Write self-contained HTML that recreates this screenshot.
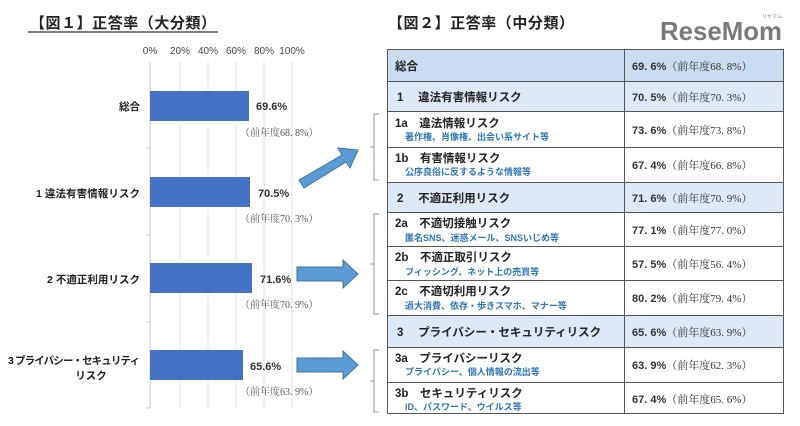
<!DOCTYPE html>
<html><head><meta charset="utf-8"><style>
html,body{margin:0;padding:0;background:#fff;}
svg{display:block;font-family:"Liberation Sans","Noto Sans CJK JP",sans-serif;}
.s{font-family:"Liberation Serif","Noto Serif CJK SC",serif;}
</style></head><body>
<svg width="800" height="426" viewBox="0 0 800 426" xmlns="http://www.w3.org/2000/svg">
<rect width="800" height="426" fill="#fff"/>
<text x="30" y="28" font-size="15" font-weight="bold" fill="#222" textLength="186">【図１】正答率（大分類）</text>
<line x1="28" y1="32" x2="218" y2="32" stroke="#333" stroke-width="1.2"/>
<g font-size="10" fill="#444" text-anchor="middle">
<text x="150" y="54">0%</text><text x="180" y="54">20%</text><text x="208" y="54">40%</text>
<text x="236" y="54">60%</text><text x="264" y="54">80%</text><text x="292" y="54">100%</text>
</g>
<g stroke="#e2e2e2" stroke-width="1">
<line x1="180" y1="62" x2="180" y2="408"/><line x1="208" y1="62" x2="208" y2="408"/>
<line x1="236" y1="62" x2="236" y2="408"/><line x1="264" y1="62" x2="264" y2="408"/>
<line x1="292" y1="62" x2="292" y2="408"/>
</g>
<g stroke="#ccc" stroke-width="1">
<line x1="150" y1="62" x2="150" y2="408"/>
<line x1="146" y1="148" x2="150" y2="148"/><line x1="146" y1="235" x2="150" y2="235"/>
<line x1="146" y1="322" x2="150" y2="322"/><line x1="146" y1="408" x2="150" y2="408"/>
</g>
<g fill="#4472c4">
<rect x="150" y="91" width="99" height="30"/>
<rect x="150" y="177" width="100" height="30"/>
<rect x="150" y="263" width="102" height="30"/>
<rect x="150" y="350" width="93" height="30"/>
</g>
<g font-size="10.5" font-weight="bold" fill="#222" text-anchor="end">
<text x="140" y="110">総合</text>
<text x="140" y="197" textLength="104">1 違法有害情報リスク</text>
<text x="140" y="283" textLength="93">2 不適正利用リスク</text>
<text x="140" y="364" textLength="132">3 プライバシー・セキュリティ</text>
<text x="91" y="379" text-anchor="middle">リスク</text>
</g>
<g font-size="11" font-weight="bold" fill="#333">
<text x="256" y="110">69.6%</text><text x="258" y="197">70.5%</text>
<text x="260" y="283">71.6%</text><text x="250" y="370">65.6%</text>
</g>
<g font-size="10" fill="#555" class="s">
<text x="240" y="136">（前年度68. 8%）</text><text x="240" y="222">（前年度70. 3%）</text>
<text x="240" y="308">（前年度70. 9%）</text><text x="240" y="395">（前年度63. 9%）</text>
</g>
<g fill="#5b9bd5" stroke="#41719c" stroke-width="1">
<polygon points="297,267 343,267 343,260 358,274 343,288 343,281 297,281"/>
<polygon points="297,358 343,358 343,351 358,365 343,379 343,372 297,372"/>
<polygon points="299,180 342,155 338,148 358,150 350,168 346,162 304,188"/>
</g>
<g fill="none" stroke="#999" stroke-width="1">
<path d="M379,114 H374 V180 H379 M370,147 H374"/>
<path d="M379,214 H374 V314 H379 M370,264 H374"/>
<path d="M379,350 H374 V412 H379 M370,381 H374"/>
</g>
<text x="388" y="28" font-size="15" font-weight="bold" fill="#222" textLength="186">【図２】正答率（中分類）</text>
<text x="660" y="40" font-size="26" font-weight="bold" fill="#7a7a7a" textLength="122" lengthAdjust="spacingAndGlyphs">ReseMom</text>
<text x="762" y="18" font-size="5" fill="#888">リセマム</text>
<rect x="387" y="49" width="397" height="32" fill="#c9dcf0"/>
<rect x="387" y="81" width="397" height="30" fill="#dde9f6"/>
<rect x="387" y="182" width="397" height="30" fill="#dde9f6"/>
<rect x="387" y="315" width="397" height="32" fill="#dde9f6"/>
<g stroke="#555" stroke-width="1" fill="none">
<rect x="387.5" y="49.5" width="396" height="364"/>
<line x1="624.5" y1="49" x2="624.5" y2="414"/>
<line x1="387" y1="81.5" x2="784" y2="81.5"/><line x1="387" y1="111.5" x2="784" y2="111.5"/>
<line x1="387" y1="147.5" x2="784" y2="147.5"/><line x1="387" y1="182.5" x2="784" y2="182.5"/>
<line x1="387" y1="212.5" x2="784" y2="212.5"/><line x1="387" y1="246.5" x2="784" y2="246.5"/>
<line x1="387" y1="280.5" x2="784" y2="280.5"/><line x1="387" y1="315.5" x2="784" y2="315.5"/>
<line x1="387" y1="347.5" x2="784" y2="347.5"/><line x1="387" y1="382.5" x2="784" y2="382.5"/>
</g>
<g font-size="11.5" font-weight="bold" fill="#222">
<text x="395" y="70">総合</text>
<text x="397" y="101">1　 違法有害情報リスク</text>
<text x="395" y="127">1a　違法情報リスク</text>
<text x="395" y="162">1b　有害情報リスク</text>
<text x="397" y="202">2　 不適正利用リスク</text>
<text x="395" y="227">2a　不適切接触リスク</text>
<text x="395" y="261">2b　不適正取引リスク</text>
<text x="395" y="295">2c　不適切利用リスク</text>
<text x="397" y="336">3　 プライバシー・セキュリティリスク</text>
<text x="395" y="362">3a　プライバシーリスク</text>
<text x="395" y="397">3b　セキュリティリスク</text>
</g>
<g font-size="9" font-weight="bold" fill="#2e75b6">
<text x="405" y="140">著作権、肖像権、出会い系サイト等</text>
<text x="405" y="175">公序良俗に反するような情報等</text>
<text x="405" y="241">匿名SNS、迷惑メール、SNSいじめ等</text>
<text x="405" y="275">フィッシング、ネット上の売買等</text>
<text x="405" y="309">過大消費、依存・歩きスマホ、マナー等</text>
<text x="405" y="375">プライバシー、個人情報の流出等</text>
<text x="405" y="410">ID、パスワード、ウイルス等</text>
</g>
<g font-size="11" fill="#333" class="s">
<text x="632" y="70"><tspan font-weight="bold" font-family="Liberation Sans">69. 6%</tspan>（前年度68. 8%）</text>
<text x="632" y="101"><tspan font-weight="bold" font-family="Liberation Sans">70. 5%</tspan>（前年度70. 3%）</text>
<text x="632" y="134"><tspan font-weight="bold" font-family="Liberation Sans">73. 6%</tspan>（前年度73. 8%）</text>
<text x="632" y="169"><tspan font-weight="bold" font-family="Liberation Sans">67. 4%</tspan>（前年度66. 8%）</text>
<text x="632" y="202"><tspan font-weight="bold" font-family="Liberation Sans">71. 6%</tspan>（前年度70. 9%）</text>
<text x="632" y="234"><tspan font-weight="bold" font-family="Liberation Sans">77. 1%</tspan>（前年度77. 0%）</text>
<text x="632" y="268"><tspan font-weight="bold" font-family="Liberation Sans">57. 5%</tspan>（前年度56. 4%）</text>
<text x="632" y="302"><tspan font-weight="bold" font-family="Liberation Sans">80. 2%</tspan>（前年度79. 4%）</text>
<text x="632" y="336"><tspan font-weight="bold" font-family="Liberation Sans">65. 6%</tspan>（前年度63. 9%）</text>
<text x="632" y="369"><tspan font-weight="bold" font-family="Liberation Sans">63. 9%</tspan>（前年度62. 3%）</text>
<text x="632" y="403"><tspan font-weight="bold" font-family="Liberation Sans">67. 4%</tspan>（前年度65. 6%）</text>
</g>
</svg>
</body></html>
